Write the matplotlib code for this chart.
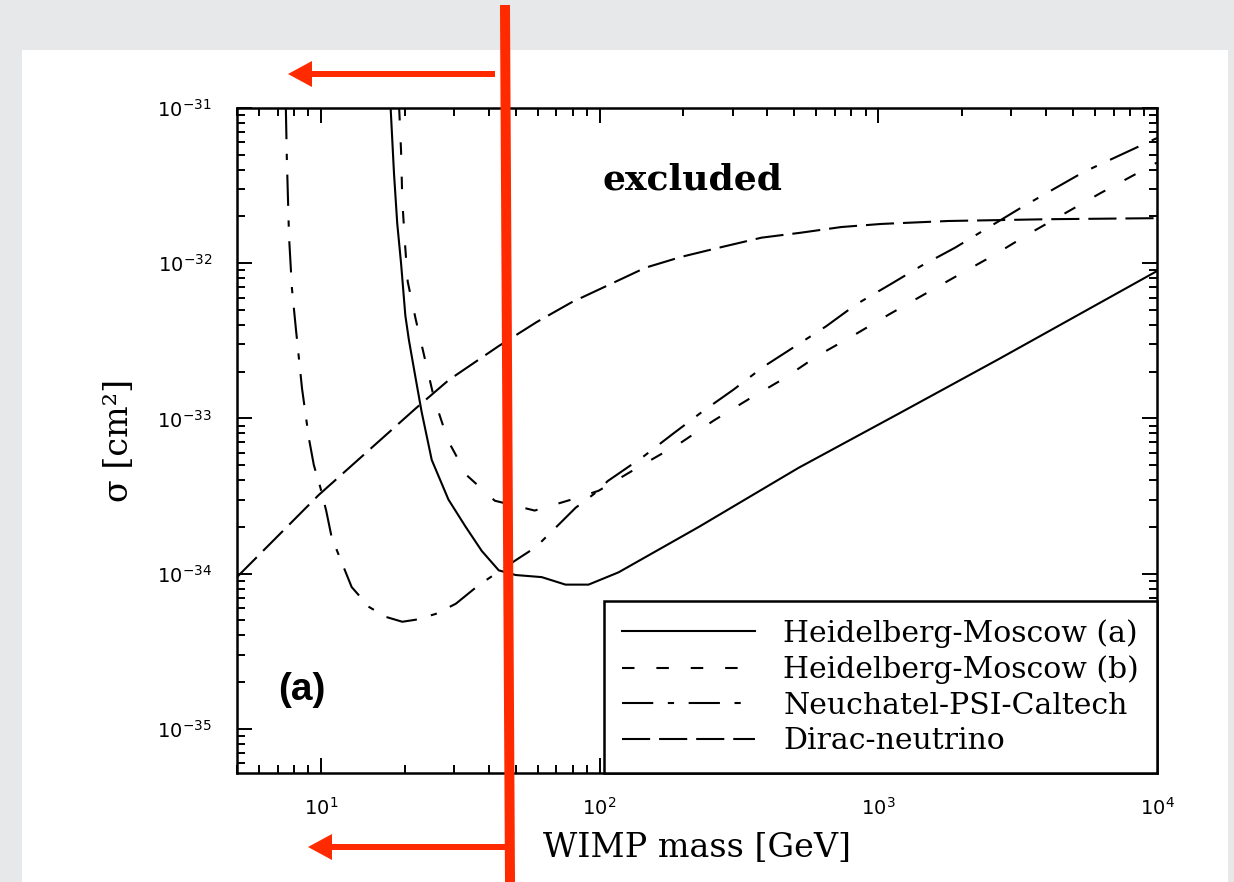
import matplotlib
matplotlib.use("Agg")
import matplotlib.pyplot as plt
from matplotlib.lines import Line2D
from matplotlib.patches import Rectangle, FancyArrow

# WIMP mass [GeV] and cross section [cm^2]
hm_a_mass = [17.8, 18.3, 18.8, 19.4, 20.1, 20.7, 21.9, 23.0, 25.0, 28.7, 33.1, 37.8,
             43.5, 50.0, 62.0, 75.5, 91.3, 117, 227, 517, 1180, 2693, 10000]
hm_a_sigma = [1.0e-31, 3.8e-32, 1.8e-32, 1.0e-32, 4.6e-33, 3.2e-33, 1.8e-33, 1.1e-33,
              5.4e-34, 3.0e-34, 2.0e-34, 1.4e-34, 1.05e-34, 9.8e-35, 9.5e-35, 8.5e-35,
              8.5e-35, 1.02e-34, 2.0e-34, 4.8e-34, 1.07e-33, 2.4e-33, 8.9e-33]

hm_b_mass = [19.1, 19.4, 19.6, 20.0, 20.5, 21.9, 25.5, 28.6, 33.4, 42.1, 58.5, 80.7,
             99.2, 138, 194, 257, 345, 457, 605, 807, 1096, 1463, 1952, 2607, 3479,
             6253, 10000]
hm_b_sigma = [1.0e-31, 5.3e-32, 2.55e-32, 1.41e-32, 7.6e-33, 4.35e-33, 1.34e-33, 7.2e-34,
              4.3e-34, 2.95e-34, 2.55e-34, 3.03e-34, 3.42e-34, 4.86e-34, 6.9e-34, 9.7e-34,
              1.34e-33, 1.8e-33, 2.53e-33, 3.39e-33, 4.69e-33, 6.3e-33, 8.45e-33,
              1.13e-32, 1.55e-32, 2.82e-32, 4.45e-32]

npc_mass = [7.49, 7.55, 7.69, 7.88, 8.14, 8.56, 9.06, 9.44, 9.97, 10.45, 10.94, 11.8,
            12.9, 14.9, 17.1, 19.6, 21.9, 25.8, 30.5, 36.9, 50.0, 59.0, 69.6, 82.1,
            96.8, 107, 144, 184, 236, 302, 387, 504, 651, 833, 1104, 1425, 1888, 3282,
            5430, 10000]
npc_sigma = [1.0e-31, 4.8e-32, 1.48e-32, 6.8e-33, 3.76e-33, 1.56e-33, 7.45e-34, 5.0e-34,
             3.57e-34, 2.55e-34, 1.71e-34, 1.22e-34, 8.2e-35, 6.1e-35, 5.27e-35, 4.9e-35,
             5.05e-35, 5.5e-35, 6.4e-35, 8.45e-35, 1.22e-34, 1.48e-34, 1.98e-34, 2.66e-34,
             3.32e-34, 3.95e-34, 5.7e-34, 8.0e-34, 1.12e-33, 1.53e-33, 2.15e-33, 2.92e-33,
             3.93e-33, 5.43e-33, 7.3e-33, 9.6e-33, 1.26e-32, 2.3e-32, 3.85e-32, 6.4e-32]

dirac_mass = [5.0, 9.84, 21.9, 28.8, 43.4, 59.4, 79.4, 105, 146, 197, 274, 381, 525,
              737, 1025, 1782, 4064, 10000]
dirac_sigma = [9.5e-35, 3.22e-34, 1.16e-33, 1.77e-33, 2.92e-33, 4.17e-33, 5.6e-33,
               7.08e-33, 9.35e-33, 1.10e-32, 1.27e-32, 1.46e-32, 1.57e-32, 1.71e-32,
               1.79e-32, 1.87e-32, 1.92e-32, 1.95e-32]

labels = ["Heidelberg-Moscow (a)", "Heidelberg-Moscow (b)",
          "Neuchatel-PSI-Caltech", "Dirac-neutrino"]

serif = "DejaVu Serif"
red = "#ff2a00"

fig = plt.figure(figsize=(12.34, 8.82), dpi=100)
fig.patch.set_facecolor("#e7e8ea")
fig.add_artist(Rectangle((22 / 1234, 0), 1206 / 1234, 832 / 882,
                         transform=fig.transFigure, facecolor="white",
                         edgecolor="none", zorder=-5))

ax = fig.add_axes([0.192, 0.1236, 0.7456, 0.754])
ax.set_xscale("log")
ax.set_yscale("log")

lw = 1.5
ax.plot(hm_a_mass, hm_a_sigma, color="black", lw=lw, label=labels[0])
ax.plot(hm_b_mass, hm_b_sigma, color="black", lw=lw, linestyle=(0, (6, 10.5)),
        label=labels[1])
ax.plot(npc_mass, npc_sigma, color="black", lw=lw, linestyle=(0, (15, 7, 3, 7)),
        label=labels[2])
ax.plot(dirac_mass, dirac_sigma, color="black", lw=lw, linestyle=(0, (13.5, 4.3)),
        label=labels[3])

ax.set_xlim(5, 1e4)
ax.set_ylim(5.2e-36, 1e-31)

for s in ax.spines.values():
    s.set_linewidth(1.8)
ax.tick_params(which="both", direction="in", top=True, right=True, width=1.4)
ax.tick_params(which="major", length=11, labelsize=14)
ax.tick_params(which="minor", length=6)
ax.tick_params(axis="x", which="major", pad=17)
ax.tick_params(axis="y", which="major", pad=18)

ax.set_xlabel("WIMP mass [GeV]", family=serif, fontsize=24, labelpad=10)
ax.set_ylabel("σ [cm²]", family=serif, fontsize=24, labelpad=16)

ax.text(0.495, 0.892, "excluded", transform=ax.transAxes, family=serif,
        fontsize=26, fontweight="bold", ha="center", va="center")
ax.text(0.071, 0.125, "(a)", transform=ax.transAxes, family="Liberation Sans",
        fontsize=28, fontweight="bold", ha="center", va="center")

leg = ax.legend(loc="lower right", borderaxespad=0, fancybox=False,
                edgecolor="black", framealpha=1, prop={"family": serif, "size": 21.5},
                handlelength=4.45, handletextpad=0.95, labelspacing=0.25,
                borderpad=0.6)
leg.get_frame().set_linewidth(1.8)

# red overlay marks
fig.add_artist(Line2D([505 / 1234, 510 / 1234], [1 - 10 / 882, 0],
                      transform=fig.transFigure, color=red, lw=7.2, zorder=10))
for x0, x1, y in [(495, 288, 74), (505, 308, 847)]:
    fig.add_artist(FancyArrow(x0 / 1234, 1 - y / 882, (x1 - x0) / 1234, 0,
                              width=6 / 882, head_width=26 / 882,
                              head_length=24 / 1234, length_includes_head=True,
                              transform=fig.transFigure, color=red, lw=0,
                              zorder=10))

fig.savefig("out.png", dpi=100, facecolor=fig.get_facecolor())
